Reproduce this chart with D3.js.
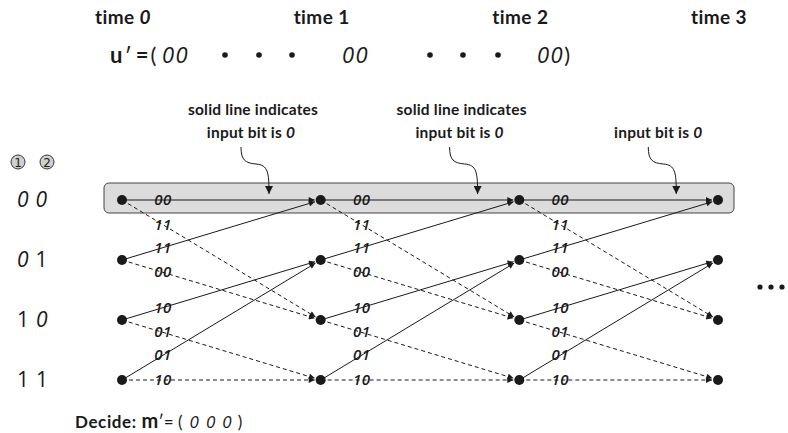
<!DOCTYPE html>
<html><head><meta charset="utf-8">
<script src="https://cdn.jsdelivr.net/npm/d3@7"></script>
<style>body{margin:0;background:#fff}svg{display:block}</style>
</head><body>
<svg id="c" width="788" height="433"></svg>
<script>
// ---- data ----
const times = ["time 0", "time 1", "time 2", "time 3"];
const states = ["00", "01", "10", "11"];
const fromState = ["00", "00", "01", "01", "10", "10", "11", "11"];
const toState   = ["00", "10", "00", "10", "01", "11", "01", "11"];
const inputBit  = [0, 1, 0, 1, 0, 1, 0, 1];
const outputBits = ["00", "11", "11", "00", "10", "01", "01", "10"];
const received = ["00", "00", "00"];
const decided = ["0", "0", "0"];
const annotLine1 = ["solid line indicates", "solid line indicates", ""];
const annotLine2 = ["input bit is 0", "input bit is 0", "input bit is 0"];

// ---- layout ----
const svg = d3.select("#c");
const x = d3.scalePoint().domain(times).range([122, 718]);
const y = d3.scalePoint().domain(states).range([200, 380]);
const R = 5;
const ink = "#1a1a1a";
const sansB = "Lato, 'Open Sans', sans-serif";
const ital = "'Open Sans', 'DejaVu Sans', sans-serif";

const defs = svg.append("defs");
defs.append("marker").attr("id", "ah").attr("viewBox", "0 0 10 10")
  .attr("refX", 10).attr("refY", 5).attr("markerWidth", 9).attr("markerHeight", 6)
  .attr("markerUnits", "userSpaceOnUse").attr("orient", "auto")
  .append("path").attr("d", "M0,0L10,5L0,10Z").attr("fill", ink);
defs.append("marker").attr("id", "ah2").attr("viewBox", "0 0 10 10")
  .attr("refX", 10).attr("refY", 5).attr("markerWidth", 12).attr("markerHeight", 8)
  .attr("markerUnits", "userSpaceOnUse").attr("orient", "auto")
  .append("path").attr("d", "M0,0L10,5L0,10Z").attr("fill", ink);

// time headers
svg.selectAll("text.time").data(times).join("text")
  .attr("x", d => x(d) + 1).attr("y", 24).attr("text-anchor", "middle")
  .attr("font-family", sansB).attr("font-weight", 700).attr("font-size", 19)
  .attr("letter-spacing", 0.4).attr("fill", ink)
  .each(function(d) {
    const [w, n] = d.split(" ");
    const t = d3.select(this);
    t.append("tspan").text(w + " ");
    t.append("tspan").text(n).attr("font-style", n === "0" ? "italic" : "normal");
  });

// received line
const uy = 63;
const recFont = 22;
const ul = svg.append("text").attr("x", 110).attr("y", uy).attr("fill", ink)
  .attr("font-family", sansB).attr("font-size", recFont);
ul.append("tspan").text("u").attr("font-weight", 700);
ul.append("tspan").text("′").attr("font-weight", 400).attr("dx", 2);
ul.append("tspan").text("=").attr("font-weight", 700).attr("dx", 4);
ul.append("tspan").text("(").attr("font-weight", 400).attr("dx", 2);
const recX = [162, 342, 537];
const dotX = [[225, 259, 292], [430, 463, 498]];
dotX.flat().forEach(dx => svg.append("circle").attr("cx", dx).attr("cy", uy - 8).attr("r", 2.8).attr("fill", ink));
received.forEach((r, i) => {
  const t = svg.append("text").attr("x", recX[i]).attr("y", uy)
    .attr("font-family", ital).attr("font-size", recFont).attr("letter-spacing", 1.5).attr("fill", ink);
  t.append("tspan").text(r).attr("font-style", "italic");
  if (i === received.length - 1) t.append("tspan").text(")").attr("font-family", sansB);
});

// box around 00 row
svg.append("rect").attr("x", x(times[0]) - 18).attr("y", y("00") - 17)
  .attr("width", x(times[3]) - x(times[0]) + 34).attr("height", 30).attr("rx", 5)
  .attr("fill", "#dcdcdc").attr("stroke", "#444").attr("stroke-width", 1);

// state labels
svg.append("g").selectAll("text").data(states).join("text")
  .attr("x", 17).attr("y", d => y(d) + 7).attr("font-size", 21).attr("fill", ink)
  .attr("font-family", ital)
  .each(function(d) {
    const t = d3.select(this);
    d.split("").forEach((ch, i) => {
      t.append("tspan").text(ch).attr("dx", i ? 7 : 0)
        .attr("font-style", ch === "0" ? "italic" : "normal");
    });
  });
// circled register numbers
[1, 2].forEach((k, i) => {
  const cx = 18 + i * 29, cy = 162;
  svg.append("circle").attr("cx", cx).attr("cy", cy).attr("r", 7)
    .attr("fill", "#cfcfcf").attr("stroke", "#333").attr("stroke-width", 1);
  svg.append("text").attr("x", cx).attr("y", cy + 4.5).attr("text-anchor", "middle")
    .attr("font-family", "'DejaVu Sans', sans-serif").attr("font-size", 12).attr("fill", ink).text(k);
});

// edges
const edges = [];
for (let t = 0; t < times.length - 1; t++) {
  fromState.forEach((f, i) => edges.push({t, f, to: toState[i], b: inputBit[i], o: outputBits[i]}));
}
const eg = svg.append("g");
eg.selectAll("line").data(edges).join("line")
  .each(function(d) {
    const x1 = x(times[d.t]), y1 = y(d.f), x2 = x(times[d.t + 1]), y2 = y(d.to);
    const L = Math.hypot(x2 - x1, y2 - y1);
    d3.select(this).attr("x1", x1).attr("y1", y1)
      .attr("x2", x2 - (x2 - x1) / L * (R + 1)).attr("y2", y2 - (y2 - y1) / L * (R + 1));
  })
  .attr("stroke", ink).attr("stroke-width", 1)
  .attr("stroke-dasharray", d => d.b ? "4,3" : null)
  .attr("marker-end", "url(#ah)");

// output labels
eg.selectAll("text").data(edges).join("text")
  .each(function(d) {
    const x1 = x(times[d.t]), y1 = y(d.f), x2 = x(times[d.t + 1]), y2 = y(d.to);
    const lx = x1 + 41;
    const ly = y1 + (y2 - y1) * (41 / (x2 - x1));
    d3.select(this).attr("x", lx).attr("y", ly + 5);
  })
  .attr("text-anchor", "middle").attr("font-family", ital).attr("font-style", "italic")
  .attr("font-weight", 600).attr("font-size", 15).attr("letter-spacing", 0.5)
  .attr("fill", ink).text(d => d.o);

// nodes
const nodes = [];
times.forEach(t => states.forEach(s => nodes.push({t, s})));
svg.append("g").selectAll("circle").data(nodes).join("circle")
  .attr("cx", d => x(d.t)).attr("cy", d => y(d.s)).attr("r", R).attr("fill", ink);

// continuation dots
[0, 1, 2].forEach(i => svg.append("circle").attr("cx", x(times[3]) + 42 + i * 11).attr("cy", 287).attr("r", 2.6).attr("fill", ink));

// annotations with curly arrows
const tipFrac = [0.74, 0.79, 0.79];
annotLine2.forEach((l2, i) => {
  const tx = x(times[i]) + tipFrac[i] * (x(times[i + 1]) - x(times[i]));
  const sx = tx - 28;
  const cx = tx - 18;
  if (annotLine1[i]) svg.append("text").attr("x", cx + 2).attr("y", 115).attr("text-anchor", "middle")
    .attr("font-family", sansB).attr("font-weight", 700).attr("font-size", 15.5).attr("letter-spacing", 0.2).attr("fill", ink).text(annotLine1[i]);
  const t2 = svg.append("text").attr("x", cx).attr("y", 138).attr("text-anchor", "middle")
    .attr("font-family", sansB).attr("font-weight", 700).attr("font-size", 15.5).attr("letter-spacing", 0.2).attr("fill", ink);
  t2.append("tspan").text(l2.slice(0, -1));
  t2.append("tspan").text(l2.slice(-1)).attr("font-style", "italic");
  svg.append("path")
    .attr("d", `M${sx},147 C${sx},160 ${sx + 4},163 ${sx + 15},164 C${sx + 27},165 ${sx + 28},172 ${sx + 28},194`)
    .attr("fill", "none").attr("stroke", ink).attr("stroke-width", 1).attr("marker-end", "url(#ah2)");
});

// decision line
const dl = svg.append("text").attr("x", 75).attr("y", 428).attr("fill", ink)
  .attr("font-family", sansB).attr("font-size", 17);
dl.append("tspan").text("Decide: ").attr("font-weight", 700).attr("letter-spacing", 0.6);
dl.append("tspan").text("m").attr("font-weight", 700).attr("font-size", 20);
dl.append("tspan").text("′= (").attr("font-weight", 400);
decided.forEach(b => dl.append("tspan").text(b).attr("dx", 7).attr("font-style", "italic").attr("font-family", ital));
dl.append("tspan").text(")").attr("dx", 6);
</script>
</body></html>
